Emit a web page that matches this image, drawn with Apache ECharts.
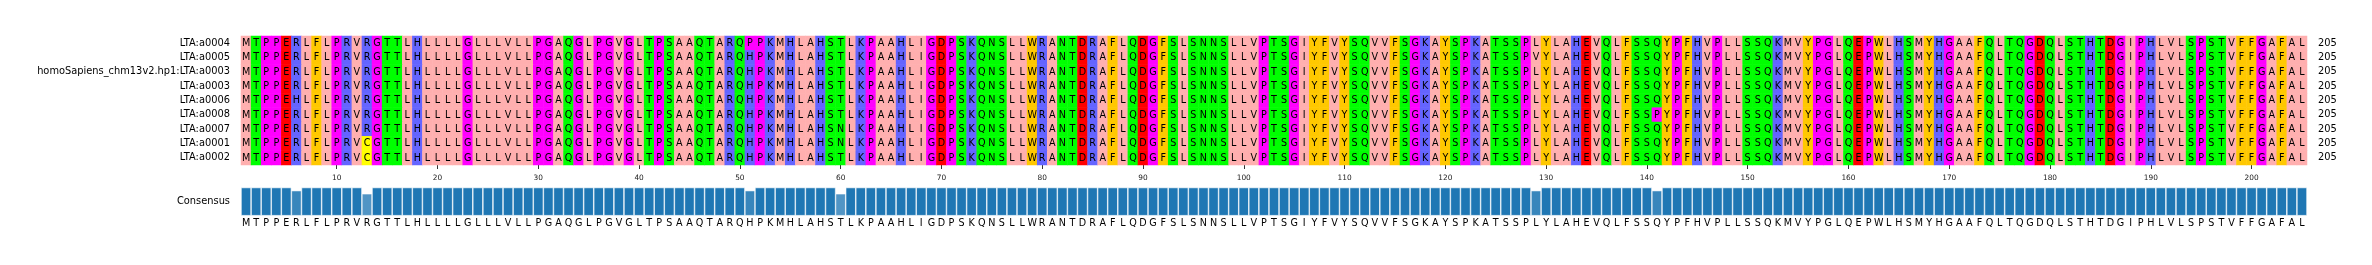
<!DOCTYPE html>
<html><head><meta charset="utf-8">
<script src="https://cdn.jsdelivr.net/npm/echarts@6/dist/echarts.min.js"></script>
<style>html,body{margin:0;padding:0;background:#fff;overflow:hidden}#c{width:2372px;height:265px}</style>
</head><body><div id="c"></div>
<script>
// ---- data ----
const rowLabels = [
  'LTA:a0004', 'LTA:a0005', 'homoSapiens_chm13v2.hp1:LTA:a0003', 'LTA:a0003',
  'LTA:a0006', 'LTA:a0008', 'LTA:a0007', 'LTA:a0001', 'LTA:a0002'
];
const sequences = [
  'MTPPERLFLP RVRGTTLHLL LLGLLLVLLP GAQGLPGVGL TPSAAQTARQ PPKMHLAHST LKPAAHLIGD PSKQNSLLWR ANTDRAFLQD GFSLSNNSLL VPTSGIYFVY SQVVFSGKAY SPKATSSPLY LAHEVQLFSS QYPFHVPLLS SQKMVYPGLQ EPWLHSMYHG AAFQLTQGDQ LSTHTDGIPH LVLSPSTVFF GAFAL',
  'MTPPERLFLP RVRGTTLHLL LLGLLLVLLP GAQGLPGVGL TPSAAQTARQ HPKMHLAHST LKPAAHLIGD PSKQNSLLWR ANTDRAFLQD GFSLSNNSLL VPTSGIYFVY SQVVFSGKAY SPKATSSPVY LAHEVQLFSS QYPFHVPLLS SQKMVYPGLQ EPWLHSMYHG AAFQLTQGDQ LSTHTDGIPH LVLSPSTVFF GAFAL',
  'MTPPERLFLP RVRGTTLHLL LLGLLLVLLP GAQGLPGVGL TPSAAQTARQ HPKMHLAHST LKPAAHLIGD PSKQNSLLWR ANTDRAFLQD GFSLSNNSLL VPTSGIYFVY SQVVFSGKAY SPKATSSPLY LAHEVQLFSS QYPFHVPLLS SQKMVYPGLQ EPWLHSMYHG AAFQLTQGDQ LSTHTDGIPH LVLSPSTVFF GAFAL',
  'MTPPERLFLP RVRGTTLHLL LLGLLLVLLP GAQGLPGVGL TPSAAQTARQ HPKMHLAHST LKPAAHLIGD PSKQNSLLWR ANTDRAFLQD GFSLSNNSLL VPTSGIYFVY SQVVFSGKAY SPKATSSPLY LAHEVQLFSS QYPFHVPLLS SQKMVYPGLQ EPWLHSMYHG AAFQLTQGDQ LSTHTDGIPH LVLSPSTVFF GAFAL',
  'MTPPEHLFLP RVRGTTLHLL LLGLLLVLLP GAQGLPGVGL TPSAAQTARQ HPKMHLAHST LKPAAHLIGD PSKQNSLLWR ANTDRAFLQD GFSLSNNSLL VPTSGIYFVY SQVVFSGKAY SPKATSSPLY LAHEVQLFSS QYPFHVPLLS SQKMVYPGLQ EPWLHSMYHG AAFQLTQGDQ LSTHTDGIPH LVLSPSTVFF GAFAL',
  'MTPPERLFLP RVRGTTLHLL LLGLLLVLLP GAQGLPGVGL TPSAAQTARQ HPKMHLAHST LKPAAHLIGD PSKQNSLLWR ANTDRAFLQD GFSLSNNSLL VPTSGIYFVY SQVVFSGKAY SPKATSSPLY LAHEVQLFSS PYPFHVPLLS SQKMVYPGLQ EPWLHSMYHG AAFQLTQGDQ LSTHTDGIPH LVLSPSTVFF GAFAL',
  'MTPPERLFLP RVRGTTLHLL LLGLLLVLLP GAQGLPGVGL TPSAAQTARQ HPKMHLAHSN LKPAAHLIGD PSKQNSLLWR ANTDRAFLQD GFSLSNNSLL VPTSGIYFVY SQVVFSGKAY SPKATSSPLY LAHEVQLFSS QYPFHVPLLS SQKMVYPGLQ EPWLHSMYHG AAFQLTQGDQ LSTHTDGIPH LVLSPSTVFF GAFAL',
  'MTPPERLFLP RVCGTTLHLL LLGLLLVLLP GAQGLPGVGL TPSAAQTARQ HPKMHLAHSN LKPAAHLIGD PSKQNSLLWR ANTDRAFLQD GFSLSNNSLL VPTSGIYFVY SQVVFSGKAY SPKATSSPLY LAHEVQLFSS QYPFHVPLLS SQKMVYPGLQ EPWLHSMYHG AAFQLTQGDQ LSTHTDGIPH LVLSPSTVFF GAFAL',
  'MTPPERLFLP RVCGTTLHLL LLGLLLVLLP GAQGLPGVGL TPSAAQTARQ HPKMHLAHST LKPAAHLIGD PSKQNSLLWR ANTDRAFLQD GFSLSNNSLL VPTSGIYFVY SQVVFSGKAY SPKATSSPLY LAHEVQLFSS QYPFHVPLLS SQKMVYPGLQ EPWLHSMYHG AAFQLTQGDQ LSTHTDGIPH LVLSPSTVFF GAFAL'
].map(s => s.replace(/ /g, ''));
const tickLabels = [10, 20, 30, 40, 50, 60, 70, 80, 90, 100, 110, 120, 130, 140, 150, 160, 170, 180, 190, 200];

// ---- derived from the alignment ----
const nCols = sequences[0].length;
const positions = Array.from({length: nCols}, (_, i) => String(i + 1));
const rightLabels = sequences.map(s => String(s.replace(/-/g, '').length));
const consensus = [];
const identity = [];
for (let c = 0; c < nCols; c++) {
  const counts = {};
  sequences.forEach(s => { counts[s[c]] = (counts[s[c]] || 0) + 1; });
  let best = null, bestN = -1;
  Object.keys(counts).forEach(k => { if (counts[k] > bestN) { best = k; bestN = counts[k]; } });
  consensus.push(best);
  identity.push(bestN / sequences.length);
}

// ---- style ----
const zappo = {
  I:'#ffafaf', L:'#ffafaf', V:'#ffafaf', A:'#ffafaf', M:'#ffafaf',
  F:'#ffc800', W:'#ffc800', Y:'#ffc800',
  K:'#6464ff', R:'#6464ff', H:'#6464ff',
  D:'#ff0000', E:'#ff0000',
  S:'#00ff00', T:'#00ff00', N:'#00ff00', Q:'#00ff00',
  P:'#ff00ff', G:'#ff00ff',
  C:'#ffff00'
};
const FONT = 'DejaVu Sans';
const LABEL_SIZE = 9.85;

// cells: [alignment position (1-based), row index, residue]
const cells = [];
sequences.forEach((s, r) => { for (let c = 0; c < s.length; c++) cells.push([c + 1, r, s[c]]); });

const chart = echarts.init(document.getElementById('c'), null, {renderer: 'canvas'});
const option = {
  backgroundColor: '#ffffff',
  animation: false,
  grid: [
    {left: 241, top: 36, width: 2066, height: 129},
    {left: 241, top: 187.5, width: 2066, height: 28.2}
  ],
  xAxis: [
    {
      type: 'value', gridIndex: 0, min: 0.5, max: nCols + 0.5,
      axisLine: {show: false},
      axisTick: {show: true, length: 4, customValues: tickLabels,
        lineStyle: {color: '#333', width: 1}},
      axisLabel: {show: true, customValues: tickLabels, margin: 9.5,
        fontSize: 7.4, fontFamily: FONT, color: '#222'},
      splitLine: {show: false}
    },
    {
      type: 'category', gridIndex: 1, data: positions, boundaryGap: true,
      axisLine: {show: false}, axisTick: {show: false},
      axisLabel: {interval: 0, margin: 3, fontSize: 9.6, fontFamily: FONT, color: '#000',
        formatter: (v, i) => consensus[i]},
      splitLine: {show: false}
    }
  ],
  yAxis: [
    {
      type: 'category', gridIndex: 0, data: rowLabels, inverse: true,
      axisLine: {show: false}, axisTick: {show: false},
      axisLabel: {margin: 11, fontSize: LABEL_SIZE, fontFamily: FONT, color: '#000'},
      splitLine: {show: false}
    },
    {
      type: 'category', gridIndex: 0, data: rowLabels, inverse: true, position: 'right',
      axisLine: {show: false}, axisTick: {show: false},
      axisLabel: {margin: 11, fontSize: LABEL_SIZE, fontFamily: FONT, color: '#000',
        formatter: (v, i) => rightLabels[i]},
      splitLine: {show: false}
    },
    {
      type: 'value', gridIndex: 1, min: 0, max: 1,
      axisLine: {show: false}, axisTick: {show: false}, axisLabel: {show: false},
      splitLine: {show: false},
      name: 'Consensus', nameLocation: 'middle', nameRotate: 0, nameGap: 11,
      nameTextStyle: {fontSize: LABEL_SIZE, fontFamily: FONT, color: '#000', align: 'right', verticalAlign: 'middle'}
    }
  ],
  series: [
    {
      type: 'custom', xAxisIndex: 0, yAxisIndex: 0, data: cells,
      renderItem: (params, api) => {
        const pos = api.value(0), r = api.value(1);
        const ch = cells[params.dataIndex][2];
        const p = api.coord([pos, r]);
        const sz = api.size([1, 1]);
        return {
          type: 'group',
          children: [
            {type: 'rect', shape: {x: p[0] - sz[0] / 2 - 0.25, y: p[1] - sz[1] / 2 - 0.25, width: sz[0] + 0.5, height: sz[1] + 0.5},
             style: {fill: zappo[ch] || '#ffffff'}},
            {type: 'text', style: {text: ch, x: p[0], y: p[1] + 0.3, align: 'center', verticalAlign: 'middle',
              fontSize: 9.6, fontFamily: FONT, fill: '#000'}}
          ]
        };
      }
    },
    {
      type: 'bar', xAxisIndex: 1, yAxisIndex: 2,
      barCategoryGap: '0%', barGap: '0%',
      data: identity.map(v => ({value: v, itemStyle: {opacity: v}})),
      itemStyle: {color: '#1f77b4', borderColor: '#ffffff', borderWidth: 0.6}
    }
  ]
};
chart.setOption(option);
</script>
</body></html>
